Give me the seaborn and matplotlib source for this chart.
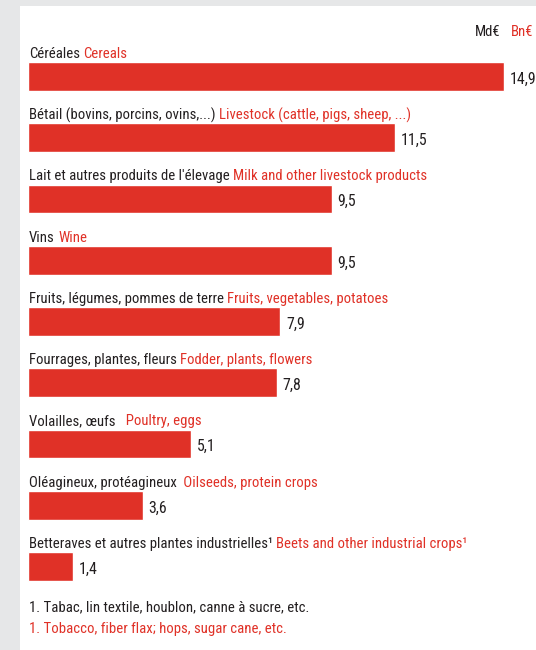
import matplotlib
matplotlib.use("Agg")
import matplotlib.pyplot as plt
import seaborn as sns
import pandas as pd

# ---- data ----
labels_fr = [
    "Céréales",
    "Bétail (bovins, porcins, ovins,...)",
    "Lait et autres produits de l'élevage",
    "Vins",
    "Fruits, légumes, pommes de terre",
    "Fourrages, plantes, fleurs",
    "Volailles, œufs",
    "Oléagineux, protéagineux",
    "Betteraves et autres plantes industrielles¹",
]
labels_en = [
    "Cereals",
    "Livestock (cattle, pigs, sheep, ...)",
    "Milk and other livestock products",
    "Wine",
    "Fruits, vegetables, potatoes",
    "Fodder, plants, flowers",
    "  Poultry, eggs",
    " Oilseeds, protein crops",
    "Beets and other industrial crops¹",
]
values = [14.9, 11.5, 9.5, 9.5, 7.9, 7.8, 5.1, 3.6, 1.4]
value_labels = ["14,9", "11,5", "9,5", "9,5", "7,9", "7,8", "5,1", "3,6", "1,4"]
unit_fr = "Md€"
unit_en = "Bn€"
note_fr = "1. Tabac, lin textile, houblon, canne à sucre, etc."
note_en = "1. Tobacco, fiber flax; hops, sugar cane, etc."

RED = "#E03127"
BLACK = "#231F20"
GREY = "#E6E7E8"

sns.set_theme(style="white")
plt.rcParams["font.family"] = ["Roboto Condensed", "Open Sans Condensed",
                               "Liberation Sans Narrow", "DejaVu Sans Condensed",
                               "Lato", "DejaVu Sans"]

W, H = 536, 650
fig = plt.figure(figsize=(W / 100, H / 100), dpi=100, facecolor=GREY)

# axes = white panel
px0, py0 = 20, 6
ax = fig.add_axes([px0 / W, 0, 1 - px0 / W, 1 - py0 / H])
ax.set_facecolor("white")

df = pd.DataFrame({"cat": labels_en, "value": values})
sns.barplot(data=df, x="value", y="cat", color=RED, width=0.47,
            saturation=1, ax=ax, orient="h")

# scale: 31.95 px per unit, bar origin at x=28 px
ppu = 31.95
ax.set_xlim(-(28 - px0) / ppu, (W - 28) / ppu)
step = 61.25
top_c = 76.5
ax.set_ylim(8 + (H - 566.5) / step, -(top_c - py0) / step)

ax.set_xlabel("")
ax.set_ylabel("")
ax.set_xticks([])
ax.set_yticks([])
for s in ax.spines.values():
    s.set_visible(False)

fs = 10.6
for i, (fr, en, v, vl) in enumerate(zip(labels_fr, labels_en, values, value_labels)):
    t = ax.text(0.03, i - 0.37, fr, color=BLACK, fontsize=fs, va="center", ha="left")
    ax.annotate(en, xy=(1, 0), xycoords=t, xytext=(2.5, 0), textcoords="offset points",
                color=RED, fontsize=fs, va="bottom", ha="left")
    ax.annotate(vl, xy=(v, i), xycoords="data", xytext=(4, -2), textcoords="offset points",
                color=BLACK, fontsize=fs + 0.8, va="center", ha="left")

# unit header
hy = -(76.5 - 32) / step
tb = ax.text((533 - 28) / ppu, hy, unit_en, color=RED, fontsize=fs, ha="right", va="center")
ax.annotate(unit_fr, xy=(0, 0), xycoords=tb, xytext=(-7, 0), textcoords="offset points",
            color=BLACK, fontsize=fs, ha="right", va="bottom")

# footnotes
ax.text(0.03, (607 - top_c) / step, note_fr, color=BLACK, fontsize=fs, va="center", ha="left")
ax.text(0.03, (629 - top_c) / step, note_en, color=RED, fontsize=fs, va="center", ha="left")

fig.savefig("out.png", dpi=100, facecolor=GREY)
